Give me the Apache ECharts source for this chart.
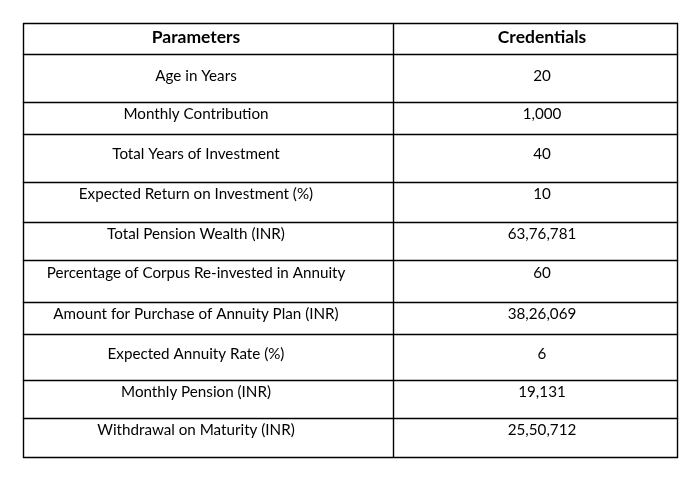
<!DOCTYPE html>
<html>
<head>
<meta charset="utf-8">
<script src="https://cdn.jsdelivr.net/npm/echarts@6/dist/echarts.min.js"></script>
<style>
  html, body { margin: 0; padding: 0; background: #fff; }
  #chart { width: 699px; height: 481px; }
</style>
</head>
<body>
<div id="chart"></div>
<script>
// Table content
const headers = ['Parameters', 'Credentials'];
const parameters = [
  'Age in Years',
  'Monthly Contribution',
  'Total Years of Investment',
  'Expected Return on Investment (%)',
  'Total Pension Wealth (INR)',
  'Percentage of Corpus Re-invested in Annuity',
  'Amount for Purchase of Annuity Plan (INR)',
  'Expected Annuity Rate (%)',
  'Monthly Pension (INR)',
  'Withdrawal on Maturity (INR)'
];
const credentials = ['20', '1,000', '40', '10', '63,76,781', '60', '38,26,069', '6', '19,131', '25,50,712'];

// Layout (pixel units on hidden axes)
const rowEdges = [23, 54, 102, 134, 182, 222, 260, 302, 334, 380, 418, 457];
const textY = [36, 75, 113, 153, 193, 233, 272, 313, 353, 391.5, 429.5];
const colEdges = [23, 393, 677];
const textX = [196, 542];

const chart = echarts.init(document.getElementById('chart'));

const rows = [headers].concat(parameters.map((p, i) => [p, credentials[i]]));

function renderRow(params, api) {
  const i = api.value(0);
  const children = [];
  const top = api.coord([0, rowEdges[i]])[1];
  const bottom = api.coord([0, rowEdges[i + 1]])[1];
  const left = api.coord([colEdges[0], 0])[0];
  const right = api.coord([colEdges[2], 0])[0];
  const lineStyle = { stroke: '#000', lineWidth: 1.4 };

  // top border of row
  children.push({ type: 'line', shape: { x1: left, y1: top + 0.5, x2: right + 1, y2: top + 0.5 }, style: lineStyle });
  if (i === rows.length - 1) {
    children.push({ type: 'line', shape: { x1: left, y1: bottom + 0.5, x2: right + 1, y2: bottom + 0.5 }, style: lineStyle });
  }
  // vertical borders
  colEdges.forEach(cx => {
    const x = api.coord([cx, 0])[0] + 0.5;
    children.push({ type: 'line', shape: { x1: x, y1: top, x2: x, y2: bottom + 1 }, style: lineStyle });
  });
  // cell texts
  const isHeader = i === 0;
  rows[i].forEach((txt, c) => {
    const pt = api.coord([textX[c], textY[i]]);
    children.push({
      type: 'text',
      x: pt[0],
      y: pt[1] + 1,
      style: {
        text: txt,
        fill: '#000',
        font: (isHeader ? 'bold 17.5px' : '15.2px') + ' Lato, "Liberation Sans", sans-serif',
        textAlign: 'center',
        textVerticalAlign: 'middle'
      }
    });
  });
  return { type: 'group', children: children };
}

chart.setOption({
  backgroundColor: '#fff',
  animation: false,
  grid: { left: 0, right: 0, top: 0, bottom: 0 },
  xAxis: { type: 'value', min: 0, max: 699, show: false },
  yAxis: { type: 'value', min: 0, max: 481, inverse: true, show: false },
  series: [{
    type: 'custom',
    renderItem: renderRow,
    data: rows.map((r, i) => [i]),
    encode: { x: 0, y: 0 },
    clip: false
  }]
});
</script>
</body>
</html>
